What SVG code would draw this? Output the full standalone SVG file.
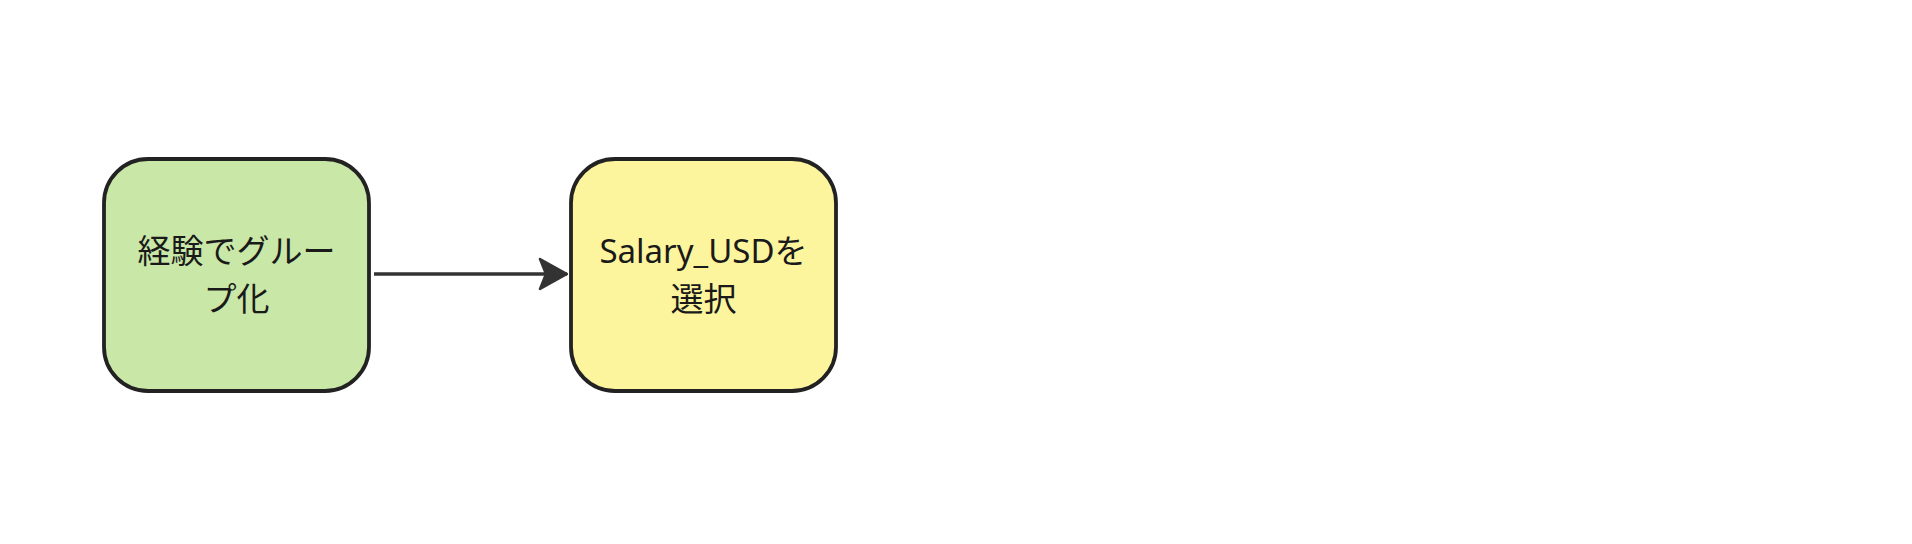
<svg xmlns="http://www.w3.org/2000/svg" width="1912" height="544" viewBox="0 0 1912 544">
<defs>
<marker id="ah" viewBox="0 0 30 34" refX="29" refY="17" markerWidth="30" markerHeight="34" markerUnits="userSpaceOnUse" orient="auto">
<path d="M2,2 L29,17 L2,32 L8,17 Z" fill="#333333" stroke="#333333" stroke-width="2.5" stroke-linejoin="round"/>
</marker>
</defs>
<style>
.node rect{stroke:#222222;stroke-width:3.8}
.node text{font-family:"Noto Sans","Noto Sans CJK JP",sans-serif;font-size:33px;fill:#1a1a1a;text-anchor:middle}
.edge{stroke:#333333;stroke-width:3.4;fill:none}
</style>
<rect width="1912" height="544" fill="#ffffff"/>
<g id="node1" class="node">
<rect x="104" y="159" width="265" height="232" rx="44" ry="44" fill="#c9e7a7"/>
<text x="236.5" y="263">経験でグルー</text>
<text x="236.5" y="311">プ化</text>
</g>
<g id="node2" class="node">
<rect x="571" y="159" width="265" height="232" rx="44" ry="44" fill="#fdf59d"/>
<text x="703.5" y="263">Salary_USDを</text>
<text x="703.5" y="311">選択</text>
</g>
<g id="connectors">
<path class="edge" d="M374,274 L567,274" marker-end="url(#ah)"/>
</g>
</svg>
